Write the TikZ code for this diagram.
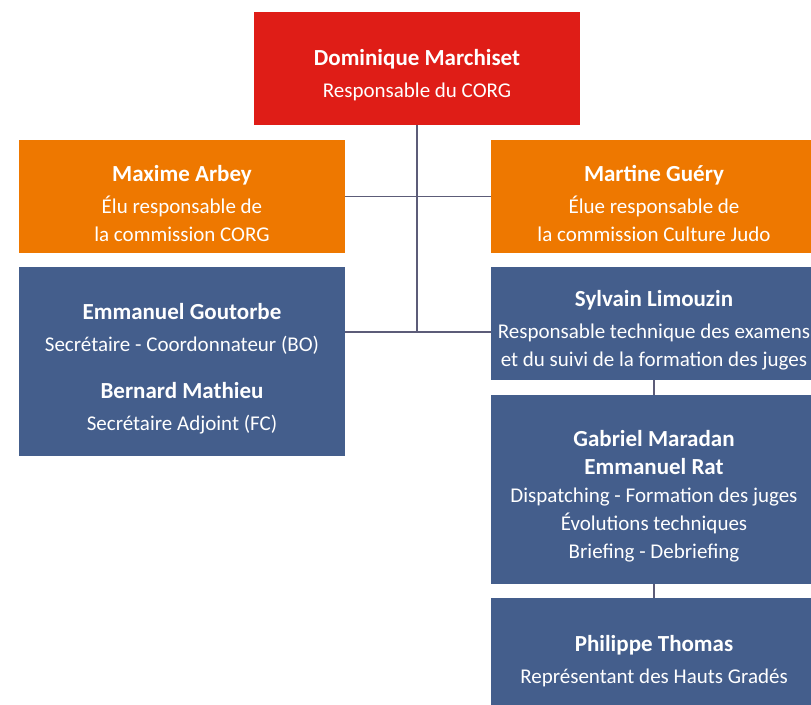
\documentclass[tikz,border=0pt]{standalone}
\usepackage{fontspec}
\setmainfont{Carlito}
\definecolor{corgred}{HTML}{DF1D17}
\definecolor{corgorange}{HTML}{EE7800}
\definecolor{corgblue}{HTML}{445E8C}
\definecolor{linkgray}{HTML}{5C5C78}
\newcommand\pname[1]{{\fontsize{23}{28}\selectfont\bfseries #1}}
\newcommand\lift{\rule{0pt}{30pt}}
\begin{document}
\begin{tikzpicture}[x=1pt, y=-1pt]
\tikzset{ box/.style={minimum width=326pt, minimum height=113pt, inner sep=0pt, align=center, text=white, font=\fontsize{21}{28}\selectfont},
  tallbox/.style={box, minimum height=189pt},
  link/.style={draw=linkgray, line width=1.6pt} }

\useasboundingbox (0,0) rectangle (811,704);
\clip (0,0) rectangle (811,704);

%%% Blocs

% Responsable du CORG
\node [box, fill=corgred] (marchiset) at (417,68.5) {\lift\pname{Dominique Marchiset}\\[4pt]Responsable du CORG};

% Elus
\node [box, fill=corgorange] (arbey) at (182,196.5) {\lift\pname{Maxime Arbey}\\[4pt]Élu responsable de\\la commission CORG};
\node [box, fill=corgorange] (guery) at (654,196.5) {\lift\pname{Martine Guéry}\\[4pt]Élue responsable de\\la commission Culture Judo};

% Secretariat
\node [tallbox, fill=corgblue] (goutorbe) at (182,361.5) {\lift\pname{Emmanuel Goutorbe}\\[4pt]Secrétaire - Coordonnateur (BO)\\[19pt]\pname{Bernard Mathieu}\\[4pt]Secrétaire Adjoint (FC)};

% Technique
\node [box, fill=corgblue] (limouzin) at (654,323.5) {\lift\pname{Sylvain Limouzin}\\[4pt]Responsable technique des examens\\et du suivi de la formation des juges};
\node [tallbox, fill=corgblue] (maradan) at (654,489.5) {\lift\pname{Gabriel Maradan}\\\pname{Emmanuel Rat}\\Dispatching - Formation des juges\\Évolutions techniques\\Briefing - Debriefing};
\node [box, fill=corgblue] (thomas) at (654,654.5) {\lift\pname{Philippe Thomas}\\[4pt]Représentant des Hauts Gradés};

%%% Liens

\coordinate (jtrunk) at (417,332);

% tronc
\draw [link] (marchiset.south) -- (jtrunk);

% elus
\draw [link] (arbey.east) -- (guery.west);

% secretariat -> technique
\draw [link] (goutorbe.east |- jtrunk) -- (limouzin.west |- jtrunk);

% colonne technique
\draw [link] (limouzin.south) -- (maradan.north);
\draw [link] (maradan.south) -- (thomas.north);

\end{tikzpicture}
\end{document}
